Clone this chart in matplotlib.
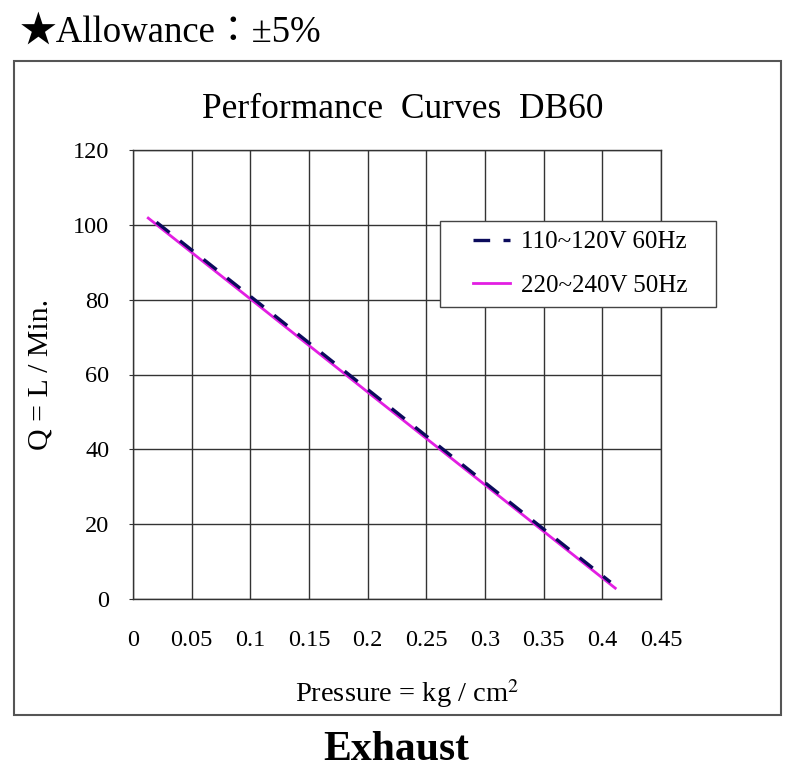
import numpy as np
import matplotlib
matplotlib.use("Agg")
import matplotlib.pyplot as plt
from matplotlib.patches import Rectangle
from matplotlib.legend_handler import HandlerLine2D

plt.rcParams["font.family"] = ["Liberation Serif", "DejaVu Serif", "Noto Sans CJK JP"]
plt.rcParams["mathtext.fontset"] = "stix"

# curvas (presion kg/cm2 -> caudal L/min)
P_60HZ = [0.020, 0.100, 0.200, 0.300, 0.407]
Q_60HZ = [100.7, 80.9, 56.0, 31.1, 4.5]
P_50HZ = [0.013, 0.100, 0.200, 0.300, 0.411]
Q_50HZ = [101.8, 80.2, 55.3, 30.5, 2.9]

LABEL_60HZ = "110~120V 60Hz"
LABEL_50HZ = "220~240V 50Hz"
X_TICKS = [0, 0.05, 0.1, 0.15, 0.2, 0.25, 0.3, 0.35, 0.4, 0.45]
X_TICK_LABELS = ["0", "0.05", "0.1", "0.15", "0.2", "0.25", "0.3", "0.35", "0.4", "0.45"]
Y_TICKS = [0, 20, 40, 60, 80, 100, 120]


class ShortHandle(HandlerLine2D):
    """dibuja la muestra solo en la parte derecha de la caja"""
    def get_xdata(self, legend, xdescent, ydescent, width, height, fontsize):
        x = np.array([-xdescent + width * 0.38, -xdescent + width])
        return x, x


W, H = 792, 781
fig = plt.figure(figsize=(W / 100, H / 100), dpi=100)
fig.patch.set_facecolor("white")

# marco exterior
fig.patches.append(Rectangle((14 / W, 1 - 715 / H), (781 - 14) / W, (715 - 61) / H,
                             transform=fig.transFigure, fill=False,
                             edgecolor="#555555", linewidth=1.5))

ax = fig.add_axes([133 / W, 1 - 599 / H, (661 - 133) / W, (599 - 150) / H])

l50, = ax.plot(P_50HZ, Q_50HZ, color="#e21ee2", linewidth=2.0, label=LABEL_50HZ, zorder=3)
l60, = ax.plot(P_60HZ, Q_60HZ, color="#0b0b5c", linewidth=2.4, dashes=(5, 4),
               label=LABEL_60HZ, zorder=4)

ax.set_xlim(0, 0.45)
ax.set_ylim(0, 120)
ax.set_xticks(X_TICKS)
ax.set_xticklabels(X_TICK_LABELS)
ax.set_yticks(Y_TICKS)
ax.grid(True, color="#333333", linewidth=1.0)
ax.set_axisbelow(True)
for s in ax.spines.values():
    s.set_color("#333333")
    s.set_linewidth(1.0)
ax.tick_params(axis="x", length=0, pad=22, labelsize=17.5)
ax.tick_params(axis="y", length=3, pad=14, labelsize=17.5, color="#333333")

ax.set_xlabel("Pressure = kg / cm$^2$", fontsize=20.5)
ax.xaxis.set_label_coords(0.519, -0.175)
ax.set_ylabel("Q = L / Min.", fontsize=21.5, labelpad=14)

leg = ax.legend([l60, l50], [LABEL_60HZ + "   ", LABEL_50HZ + "   "],
                handler_map={l60: ShortHandle(), l50: ShortHandle()},
                loc="upper left", bbox_to_anchor=(0.581, 0.842),
                fontsize=18, frameon=True, fancybox=False, framealpha=1,
                handlelength=2.4, handletextpad=0.45, borderpad=0.4,
                labelspacing=0.85, borderaxespad=0)
leg.get_frame().set_edgecolor("#444444")
leg.get_frame().set_linewidth(1.0)
leg.set_zorder(5)

fig.text(403 / W, 1 - 110 / H, "Performance  Curves  DB60", fontsize=25.5,
         ha="center", va="center")
fig.text(20 / W, 1 - 32 / H, "★Allowance：±5%", fontsize=26.5,
         ha="left", va="center")
fig.text(396 / W, 1 - 750 / H, "Exhaust", fontsize=30, fontweight="bold",
         ha="center", va="center")

fig.savefig("out.png", dpi=100, facecolor="white")
